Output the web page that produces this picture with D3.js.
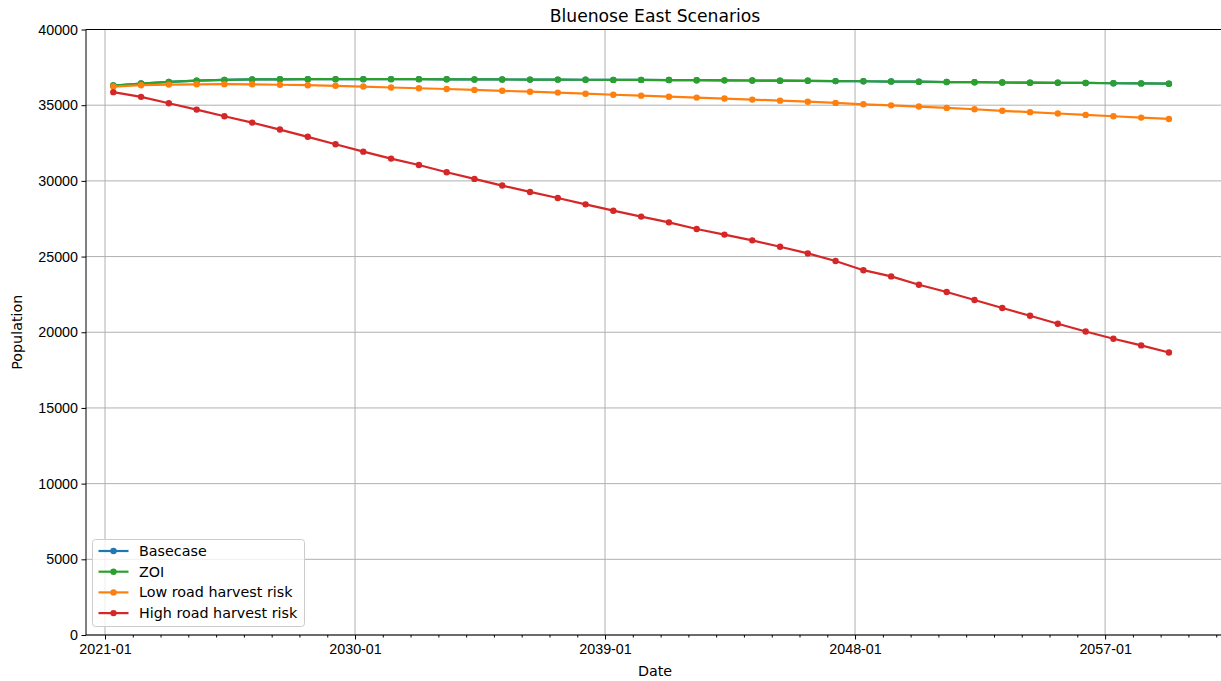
<!DOCTYPE html>
<html>
<head>
<meta charset="utf-8">
<script src="https://cdn.jsdelivr.net/npm/d3@7"></script>
<style>
  body { margin: 0; background: #fff; }
  svg { display: block; font-family: "DejaVu Sans", sans-serif; }
  .grid line { stroke: #b0b0b0; stroke-width: 1; }
  .axis text { font-size: 14.3px; fill: #000; }
  .axis path, .axis line { stroke: #000; }
</style>
</head>
<body>
<svg class="chart"></svg>
<script>
// dimensiones de la figura
var W = 1221, H = 681;
var margin = {top: 29.5, right: -3, bottom: 46, left: 86},
    width = W - margin.left - margin.right,
    height = H - margin.top - margin.bottom;

// datos (un punto por año)
var years = d3.range(2021, 2060);
var seriesNames = ["Basecase", "ZOI", "Low road harvest risk", "High road harvest risk"];
var seriesColors = ["#1f77b4", "#2ca02c", "#ff7f0e", "#d62728"];

var zoi = [36300,36430,36540,36620,36670,36700,36710,36720,36720,36720,
           36720,36720,36710,36700,36700,36690,36690,36680,36670,36670,
           36660,36650,36640,36630,36620,36610,36590,36580,36560,36550,
           36530,36520,36500,36490,36480,36470,36450,36440,36420];
var basecase = zoi.slice();
var lowRisk = [36230,36320,36360,36380,36390,36380,36350,36320,36280,36230,
               36170,36120,36070,36010,35950,35890,35830,35760,35690,35630,
               35560,35500,35440,35370,35300,35230,35150,35060,34990,34910,
               34820,34730,34630,34540,34450,34360,34270,34180,34090];
var highRisk = [35860,35550,35130,34710,34270,33850,33390,32910,32420,31930,
                31470,31050,30570,30130,29690,29270,28870,28450,28030,27640,
                27260,26820,26450,26070,25650,25210,24710,24100,23690,23140,
                22660,22130,21600,21090,20560,20050,19570,19130,18660];

var yTicks = d3.range(0, 40001, 5000);
var majorYears = [2021, 2030, 2039, 2048, 2057];
var xDomain = [new Date(2020, 3, 26), new Date(2061, 3, 13)];

var allSeries = [basecase, zoi, lowRisk, highRisk];

var svg = d3.select(".chart").attr("width", W).attr("height", H);
var chart = svg.append("g")
    .attr("transform", "translate(" + margin.left + "," + margin.top + ")");

var x = d3.scaleTime().domain(xDomain).range([0, width]);
var y = d3.scaleLinear().domain([0, 40000]).range([height, 0]);

function pointDate(yr) { return new Date(yr, 3, 20); }

// rejilla
var grid = chart.append("g").attr("class", "grid");
grid.selectAll(".gx").data(majorYears).enter().append("line")
    .attr("x1", function(d){ return x(new Date(d, 0, 1)); })
    .attr("x2", function(d){ return x(new Date(d, 0, 1)); })
    .attr("y1", 0).attr("y2", height);
grid.selectAll(".gy").data(yTicks).enter().append("line")
    .attr("x1", 0).attr("x2", width)
    .attr("y1", function(d){ return y(d); })
    .attr("y2", function(d){ return y(d); });

// lineas
var line = d3.line()
    .x(function(d, i){ return x(pointDate(years[i])); })
    .y(function(d){ return y(d); });

allSeries.forEach(function(s, k) {
  var g = chart.append("g");
  g.append("path")
    .datum(s)
    .attr("fill", "none")
    .attr("stroke", seriesColors[k])
    .attr("stroke-width", 2.2)
    .attr("d", line);
  g.selectAll("circle").data(s).enter().append("circle")
    .attr("cx", function(d, i){ return x(pointDate(years[i])); })
    .attr("cy", function(d){ return y(d); })
    .attr("r", 3.2)
    .attr("fill", seriesColors[k]);
});

// eje x
var xAxis = d3.axisBottom(x)
    .tickValues(majorYears.map(function(d){ return new Date(d, 0, 1); }))
    .tickFormat(d3.timeFormat("%Y-%m"))
    .tickSize(4.5).tickPadding(4);
chart.append("g")
    .attr("class", "axis")
    .attr("transform", "translate(0," + height + ")")
    .call(xAxis)
    .call(function(g){ g.select(".domain").remove(); });

var minorYears = d3.range(2021, 2062).filter(function(d){ return majorYears.indexOf(d) < 0; });
chart.append("g")
    .attr("class", "axis")
    .attr("transform", "translate(0," + height + ")")
    .call(d3.axisBottom(x)
      .tickValues(minorYears.map(function(d){ return new Date(d, 0, 1); }))
      .tickFormat("").tickSize(2.5))
    .call(function(g){ g.select(".domain").remove(); });

// eje y
chart.append("g")
    .attr("class", "axis")
    .call(d3.axisLeft(y).tickValues(yTicks).tickFormat(d3.format("d")).tickSize(4.5).tickPadding(3.5))
    .call(function(g){ g.select(".domain").remove(); });

// marco
chart.append("line").attr("x1", 0).attr("x2", width).attr("y1", 0).attr("y2", 0)
    .attr("stroke", "#000").attr("stroke-width", 1);
chart.append("line").attr("x1", 0).attr("x2", width).attr("y1", height).attr("y2", height)
    .attr("stroke", "#000").attr("stroke-width", 1);
chart.append("line").attr("x1", 0).attr("x2", 0).attr("y1", 0).attr("y2", height)
    .attr("stroke", "#000").attr("stroke-width", 1);
chart.append("line").attr("x1", width).attr("x2", width).attr("y1", 0).attr("y2", height)
    .attr("stroke", "#000").attr("stroke-width", 1);

// titulo y etiquetas
svg.append("text")
    .attr("x", margin.left + width / 2).attr("y", 22)
    .attr("text-anchor", "middle")
    .style("font-size", "17.2px")
    .text("Bluenose East Scenarios");
svg.append("text")
    .attr("x", margin.left + width / 2).attr("y", 676)
    .attr("text-anchor", "middle")
    .style("font-size", "14.3px")
    .text("Date");
svg.append("text")
    .attr("transform", "translate(22," + (margin.top + height / 2) + ") rotate(-90)")
    .attr("text-anchor", "middle")
    .style("font-size", "14.3px")
    .text("Population");

// leyenda
var legend = chart.append("g").attr("transform", "translate(6.5," + (539.5 - margin.top) + ")");
legend.append("rect")
    .attr("width", 212).attr("height", 87)
    .attr("rx", 3)
    .attr("fill", "#fff").attr("fill-opacity", 0.8)
    .attr("stroke", "#cccccc");
seriesNames.forEach(function(name, k) {
  var ly = 11.5 + k * 20.7;
  legend.append("line")
    .attr("x1", 6).attr("x2", 36).attr("y1", ly).attr("y2", ly)
    .attr("stroke", seriesColors[k]).attr("stroke-width", 2.2);
  legend.append("circle").attr("cx", 21).attr("cy", ly).attr("r", 3.2).attr("fill", seriesColors[k]);
  legend.append("text")
    .attr("x", 46.5).attr("y", ly + 5)
    .style("font-size", "14.3px")
    .text(name);
});
</script>
</body>
</html>
